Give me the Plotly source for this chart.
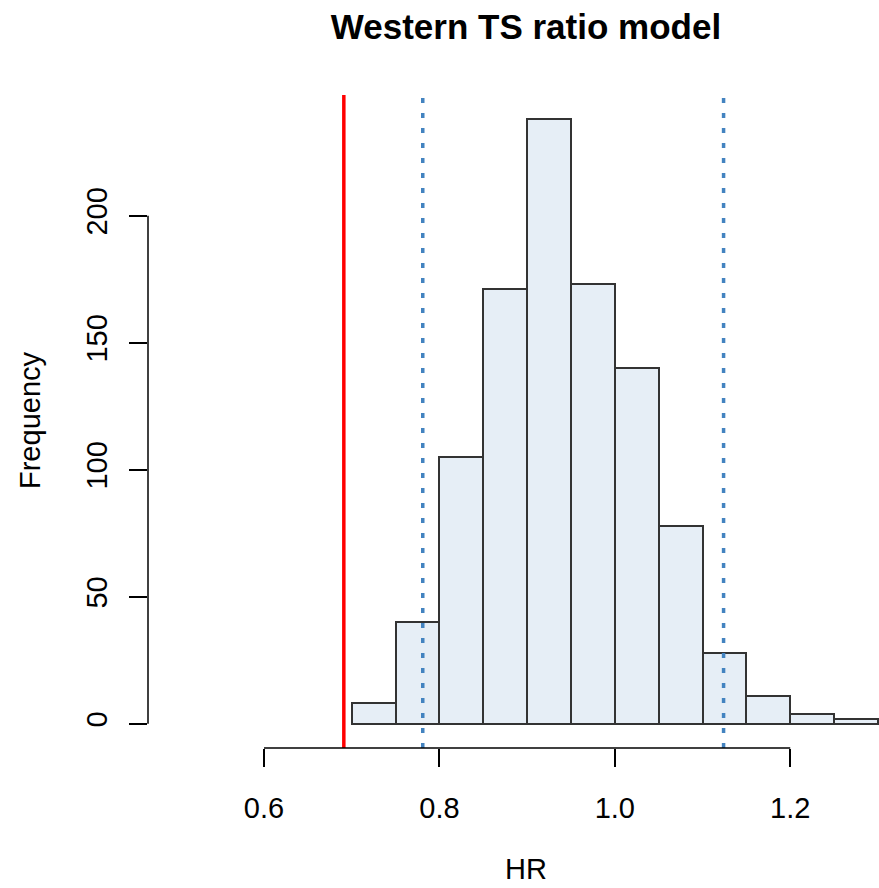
import plotly.graph_objects as go

# ---- data ----
bin_left = [0.70, 0.75, 0.80, 0.85, 0.90, 0.95, 1.00, 1.05, 1.10, 1.15, 1.20, 1.25]
bin_width = 0.05
counts = [8, 40, 105, 171, 238, 173, 140, 78, 28, 11, 4, 2]
observed_hr = 0.691
ci_bounds = [0.781, 1.124]
x_ticks = [0.6, 0.8, 1.0, 1.2]
y_ticks = [0, 50, 100, 150, 200]

W, H = 879, 888
FONT = "Liberation Sans, Arial, sans-serif"
TOP, BOTTOM = 95, 748
FS = 29

centers = [b + bin_width / 2 for b in bin_left]

fig = go.Figure()
fig.add_trace(go.Bar(
    x=centers, y=counts, width=[bin_width] * len(counts),
    marker=dict(color="#E6EEF6", line=dict(color="#333333", width=2)),
    showlegend=False, hoverinfo="skip",
))

# R-style axis extents (4% padding)
ymax = max(counts)
ypad = 0.04 * ymax
y_range = [-ypad, ymax + ypad]
x_lo = 0.4677
x_hi = x_lo + (W - 148) / 877.0

# vertical reference lines
fig.add_shape(type="line", xref="x", yref="paper", x0=observed_hr, x1=observed_hr,
              y0=0, y1=1, line=dict(color="#FF0000", width=3.5))
for v in ci_bounds:
    fig.add_shape(type="line", xref="x", yref="paper", x0=v, x1=v, y0=0, y1=1,
                  line=dict(color="#4383C0", width=3.5, dash="5px,10px"))

# axis lines spanning the tick range only (R style)
fig.add_shape(type="line", xref="x", yref="paper", x0=min(x_ticks), x1=max(x_ticks),
              y0=0, y1=0, line=dict(color="black", width=1.5))
fig.add_shape(type="line", xref="paper", yref="y", x0=0, x1=0,
              y0=min(y_ticks), y1=max(y_ticks), line=dict(color="black", width=1.5))

PH = BOTTOM - TOP
fig.update_layout(
    width=W, height=H,
    margin=dict(l=148, r=0, t=TOP, b=H - BOTTOM, pad=0),
    plot_bgcolor="white", paper_bgcolor="white",
    font=dict(family=FONT, color="black", size=FS),
    bargap=0,
    title=dict(text="<b>Western TS ratio model</b>", x=(526 - 148) / (W - 148), xref="paper",
               xanchor="center", y=1 - 27 / H, yref="container", yanchor="middle",
               font=dict(family=FONT, size=35, color="black")),
    xaxis=dict(range=[x_lo, x_hi], tickmode="array", tickvals=x_ticks,
               ticktext=[f"{v:.1f}" for v in x_ticks],
               ticks="outside", ticklen=18, tickwidth=1.5, tickcolor="black",
               showgrid=False, zeroline=False, showline=False,
               ticklabelstandoff=16, tickfont=dict(size=FS)),
    yaxis=dict(range=y_range, tickmode="array", tickvals=y_ticks,
               ticktext=[str(v) for v in y_ticks], tickangle=-90,
               ticks="outside", ticklen=18, tickwidth=1.5, tickcolor="black",
               showgrid=False, zeroline=False, showline=False,
               ticklabelstandoff=10, tickfont=dict(size=FS)),
    annotations=[
        dict(text="HR", xref="paper", yref="paper", x=(526 - 148) / (W - 148),
             y=-(869 - BOTTOM) / PH, xanchor="center", yanchor="middle",
             showarrow=False, font=dict(size=FS)),
        dict(text="Frequency", xref="paper", yref="paper", x=-(148 - 30) / (W - 148),
             y=(BOTTOM - 420) / PH, xanchor="center", yanchor="middle",
             textangle=-90, showarrow=False, font=dict(size=FS)),
    ],
)

fig.write_html("out.html")
